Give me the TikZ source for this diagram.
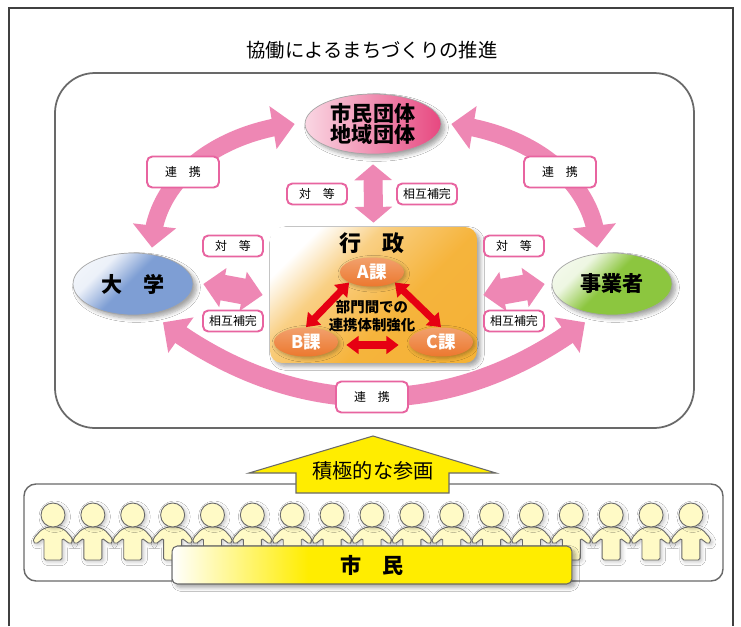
\documentclass[tikz,border=0pt]{standalone}
\usepackage{fontspec}
\setmainfont{Noto Sans CJK JP}
\IfFontExistsTF{Noto Sans CJK JP Black}
  {\newfontfamily\heavyfont{Noto Sans CJK JP Black}}
  {\newcommand\heavyfont{\bfseries}}
\usepackage{tikz}
\usetikzlibrary{arrows.meta,bending,shapes.geometric,shadows.blur}
\definecolor{Cpink}{RGB}{238,135,180}
\definecolor{Crim}{RGB}{232,100,160}
\definecolor{Ccivic}{RGB}{231,72,128}
\definecolor{Cuni}{RGB}{126,158,212}
\definecolor{Cbiz}{RGB}{140,198,63}
\definecolor{Cgov}{RGB}{245,176,50}
\definecolor{Cka}{RGB}{236,120,46}
\definecolor{Cred}{RGB}{230,0,18}
\definecolor{Cyellow}{RGB}{255,237,0}
\definecolor{Cperson}{RGB}{255,250,198}
\definecolor{Cline}{RGB}{105,105,105}

% glossy fills: white only near one corner
\pgfdeclareverticalshading{unigloss}{100bp}{color(0bp)=(Cuni); color(52bp)=(Cuni); color(68bp)=(white!85!Cuni); color(100bp)=(white)}
\pgfdeclareverticalshading{bizgloss}{100bp}{color(0bp)=(Cbiz); color(52bp)=(Cbiz); color(68bp)=(white!85!Cbiz); color(100bp)=(white)}
\pgfdeclareverticalshading{govgloss}{100bp}{color(0bp)=(Cgov); color(42bp)=(Cgov!95); color(62bp)=(Cgov!60); color(75bp)=(white); color(100bp)=(white)}
\pgfdeclarehorizontalshading{bannergloss}{100bp}{color(0bp)=(white); color(25bp)=(white); color(42bp)=(Cyellow); color(100bp)=(Cyellow)}

\tikzset{
  softshadow/.style={blur shadow={shadow xshift=2pt, shadow yshift=-2pt, shadow blur steps=6, shadow opacity=35}},
  pinkflow/.style n args={3}{draw=Cpink, line width=#1,
    arrows={Triangle[width=#2,length=#3]-Triangle[width=#2,length=#3]}},
  redflow/.style={draw=Cred, line width=4pt,
    arrows={Triangle[width=10pt,length=7pt]-Triangle[width=10pt,length=7pt]}},
  tagbox/.style={draw=Crim, line width=1.1pt, fill=white, rounded corners=3pt, inner sep=0pt,
    minimum width=1.2cm, minimum height=0.42cm, font=\fontsize{6.8}{8}\selectfont},
  tagwide/.style={tagbox, minimum width=1.44cm, minimum height=0.62cm},
  partner/.style={ellipse, draw=Cline!60, line width=0.4pt, inner sep=0pt, align=center,
    font=\heavyfont\fontsize{12}{11.6}\selectfont, softshadow},
  kabox/.style={ellipse, inner sep=0pt, minimum width=1.28cm, minimum height=0.58cm,
    top color=Cka!70, bottom color=Cka, text=white, font=\heavyfont\fontsize{10}{10}\selectfont,
    blur shadow={shadow xshift=1pt, shadow yshift=-1pt, shadow opacity=30}},
  govbox/.style={rectangle, rounded corners=0.24cm, minimum width=4.14cm, minimum height=2.72cm,
    shade, shading=govgloss, shading angle=45, softshadow},
  person/.style={fill=Cperson, draw=Cline, line width=0.5pt,
    blur shadow={shadow xshift=1pt, shadow yshift=-1pt, shadow opacity=25}},
  banner/.style={rectangle, rounded corners=3pt, draw=Cline, line width=0.6pt,
    minimum width=8cm, minimum height=0.76cm, shade, shading=bannergloss,
    font=\heavyfont\fontsize{12}{12}\selectfont, softshadow}
}

\begin{document}
\begin{tikzpicture}[x=0.02cm, y=-0.02cm]
  \fill[white] (0,0) rectangle (741,626);
  \useasboundingbox (0,0) rectangle (741,626);
  \draw[black!75, line width=0.6pt] (9,626) -- (9,8) -- (733,8) -- (733,626);

  \node[font=\fontsize{11}{12}\selectfont] (title) at (372,50) {協働によるまちづくりの推進};
  \draw[Cline, line width=1pt, rounded corners=0.8cm] (55,73) rectangle (694,428);

  % partners
  \node[partner, minimum width=2.72cm, minimum height=1.2cm,
    left color=Ccivic!22, middle color=Ccivic!70, right color=Ccivic] (civic) at (373,124)
    {市民団体\\地域団体};
  \node[partner, minimum width=2.4cm, minimum height=1.24cm,
    shade, shading=unigloss, shading angle=45] (uni) at (133,284) {大　学};
  \node[partner, minimum width=2.4cm, minimum height=1.24cm,
    shade, shading=bizgloss, shading angle=45] (biz) at (612,284) {事業者};
  \node[govbox] (gov) at (373.5,295) {};

  % cooperation arcs
  \draw[pinkflow={10pt}{24pt}{12.5pt}] ([shift={(19,-5)}]uni.north)
    .. controls +(0,-58) and +(-90,11) .. ([xshift=-0.2cm]civic.west);
  \draw[pinkflow={10pt}{24pt}{12.5pt}] ([shift={(-15,-5)}]biz.north)
    .. controls +(0,-58) and +(90,11) .. ([xshift=0.2cm]civic.east);
  \draw[pinkflow={11pt}{24pt}{12.5pt}] ([shift={(30,7)}]uni.south)
    .. controls +(133,100) and +(-133,100) .. ([shift={(-27,7)}]biz.south);

  % equal partners
  \draw[pinkflow={10.8pt}{21pt}{9pt}] ([yshift=-0.2cm]civic.south) -- ([yshift=0.08cm]gov.north);
  \draw[pinkflow={14.7pt}{22pt}{11.3pt}] ([xshift=0.2cm]uni.east) -- ([xshift=-0.14cm]gov.west);
  \draw[pinkflow={14.7pt}{22pt}{11.3pt}] ([xshift=0.12cm]gov.east) -- ([xshift=-0.14cm]biz.west);

  \node[tagwide] (coopl) at (183,172) {連　携};
  \node[tagwide] (coopr) at (560,172) {連　携};
  \node[tagwide] (coopb) at (372,397) {連　携};
  \node[tagbox] (eqt) at (317,194) {対　等};
  \node[tagbox] (mut) at (427,194) {相互補完};
  \node[tagbox] (eql) at (233,246) {対　等};
  \node[tagbox] (mul) at (233,321) {相互補完};
  \node[tagbox] (eqr) at (514,246) {対　等};
  \node[tagbox] (mur) at (514,321) {相互補完};

  % inside the administration
  \node[font=\heavyfont\fontsize{12.5}{13}\selectfont] (govtitle) at (372,243) {行　政};
  \node[kabox] (ka) at (372,272) {A課};
  \node[kabox] (kb) at (306,342) {B課};
  \node[kabox] (kc) at (441,342) {C課};
  \draw[redflow] (kb.north) -- (ka.south west);
  \draw[redflow] (kc.north) -- (ka.south east);
  \draw[redflow] ([shift={(8,3)}]kb.east) -- ([shift={(-10,3)}]kc.west);
  \node[font=\heavyfont\fontsize{8.2}{10}\selectfont, align=center] (link) at (372,316)
    {部門間での\\連携体制強化};

  % citizens
  \draw[Cline, line width=0.8pt, fill=white, rounded corners=0.24cm] (24,484) rectangle (723,581);
  \draw[Cline, line width=0.6pt, fill=Cyellow] (373,436) -- (496,473) -- (449,473) -- (449,493)
    -- (296,493) -- (296,473) -- (249,473) -- cycle;
  \node[font=\fontsize{11.5}{12}\selectfont] (join) at (373,471) {積極的な参画};
  \foreach \i in {0,...,16}{
    \begin{scope}[shift={(53+39.87*\i,0)}]
      \draw[person, rounded corners=1pt] (-5,527) -- (-12,530) -- (-19,538) -- (-20,542)
        -- (-17,544) -- (-9,538) -- (-9,560) -- (9,560) -- (9,538) -- (17,544) -- (20,542)
        -- (19,538) -- (12,530) -- (5,527) -- cycle;
      \draw[person] (0,515) ellipse [x radius=12, y radius=12];
    \end{scope}
  }
  \node[banner] (citizen) at (372,565) {市　民};
\end{tikzpicture}
\end{document}
